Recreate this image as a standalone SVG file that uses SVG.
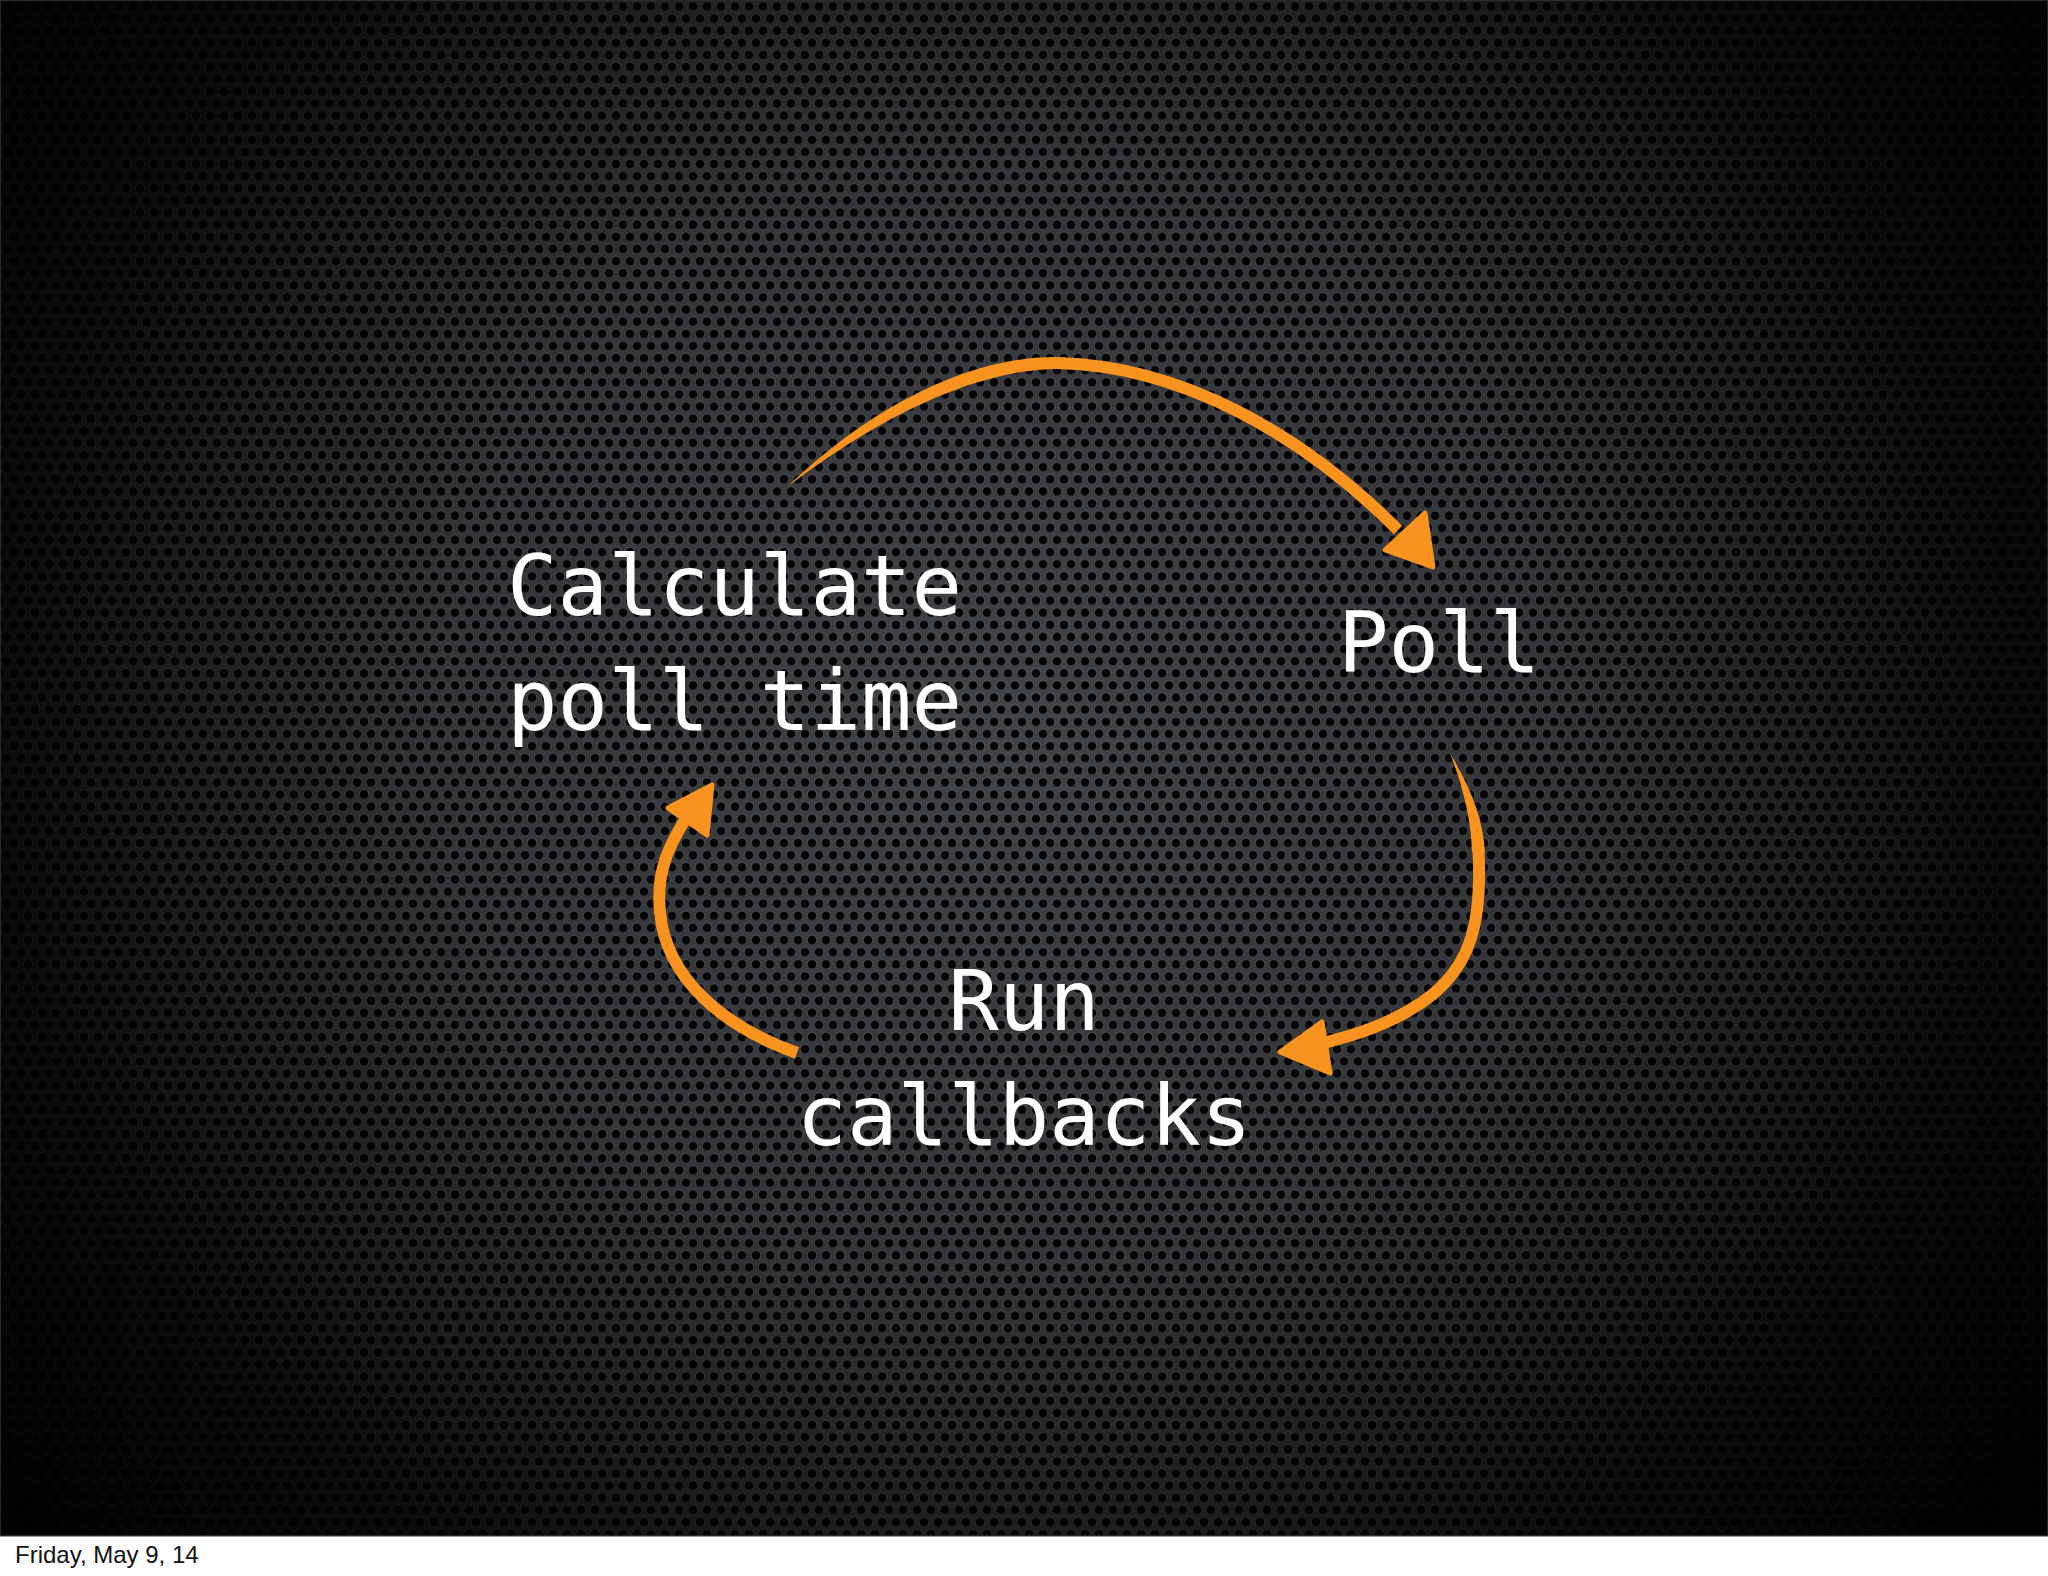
<svg xmlns="http://www.w3.org/2000/svg" width="2048" height="1576" viewBox="0 0 2048 1576">
  <defs>
    <pattern id="holes" x="0" y="0" width="14" height="24.25" patternUnits="userSpaceOnUse">
      <rect width="14" height="24.25" fill="#4a4d51"/>
      <circle cx="7" cy="6" r="5.2" fill="#5a5d61"/>
      <circle cx="0" cy="18.12" r="5.2" fill="#5a5d61"/>
      <circle cx="14" cy="18.12" r="5.2" fill="#5a5d61"/>
      <circle cx="7" cy="6.4" r="4.3" fill="#050506"/>
      <circle cx="0" cy="18.5" r="4.3" fill="#050506"/>
      <circle cx="14" cy="18.5" r="4.3" fill="#050506"/>
    </pattern>
    <radialGradient id="vignette" cx="1000" cy="720" r="1250" gradientUnits="userSpaceOnUse">
      <stop offset="0" stop-color="#000" stop-opacity="0.12"/>
      <stop offset="0.45" stop-color="#000" stop-opacity="0.32"/>
      <stop offset="0.8" stop-color="#000" stop-opacity="0.85"/>
      <stop offset="1" stop-color="#000" stop-opacity="0.97"/>
    </radialGradient>
    <style>
      .label { font-family: "DejaVu Sans Mono", "Liberation Mono", monospace; font-size: 84px; fill: #ffffff; }
      .arc { fill: none; stroke: #f7931e; stroke-width: 12; stroke-linecap: butt; }
      .taper { fill: #f7931e; stroke: none; }
      .head { fill: #f7931e; stroke: #f7931e; stroke-width: 5; stroke-linejoin: round; }
      .footer { font-family: "Liberation Sans", Arial, sans-serif; font-size: 24px; fill: #111111; }
    </style>
  </defs>

  <!-- background -->
  <rect x="0" y="0" width="2048" height="1576" fill="#ffffff"/>
  <rect x="0" y="0" width="2048" height="1536" fill="url(#holes)"/>
  <rect x="0" y="0" width="2048" height="1536" fill="url(#vignette)"/>
  <rect x="0.5" y="0.5" width="2047" height="1535" fill="none" stroke="#2a2a2a" stroke-width="1"/>
  <line x1="0" y1="1536.5" x2="2048" y2="1536.5" stroke="#9a9a9a" stroke-width="1"/>

  <g id="connectors">
    <!-- top: Calculate -> Poll -->
    <path class="taper" d="M787,487 C880,398 980,355 1060,357 L1060,369 C985,368 888,410 787,487 Z"/>
    <path class="arc" d="M1058,363 C1180,366 1300,432 1398,530"/>
    <path class="head" d="M1433,567 L1425,513 L1385,550 Z"/>

    <!-- right: Poll -> Run callbacks -->
    <path class="taper" d="M1450,753 C1472,790 1483,820 1485,852 L1472,852 C1471,820 1464,790 1450,753 Z"/>
    <path class="arc" d="M1478.5,850 C1482,920 1472,962 1432,995 C1395,1024 1352,1036 1312,1046"/>
    <path class="head" d="M1280,1052 L1322,1022 L1330,1073 Z"/>

    <!-- left: Run callbacks -> Calculate -->
    <path class="arc" d="M797,1053 C722,1026 666,978 660,912 C656,872 668,846 690,812"/>
    <path class="head" d="M712,785 L668,808 L707,835 Z"/>
  </g>

  <g id="node-calculate">
    <text class="label" x="507" y="615">Calculate</text>
    <text class="label" x="507" y="730">poll time</text>
  </g>
  <g id="node-poll">
    <text class="label" x="1338" y="672">Poll</text>
  </g>
  <g id="node-run">
    <text class="label" x="1024" y="1030" text-anchor="middle">Run</text>
    <text class="label" x="1024" y="1145" text-anchor="middle">callbacks</text>
  </g>

  <text class="footer" x="15" y="1563">Friday, May 9, 14</text>
</svg>
